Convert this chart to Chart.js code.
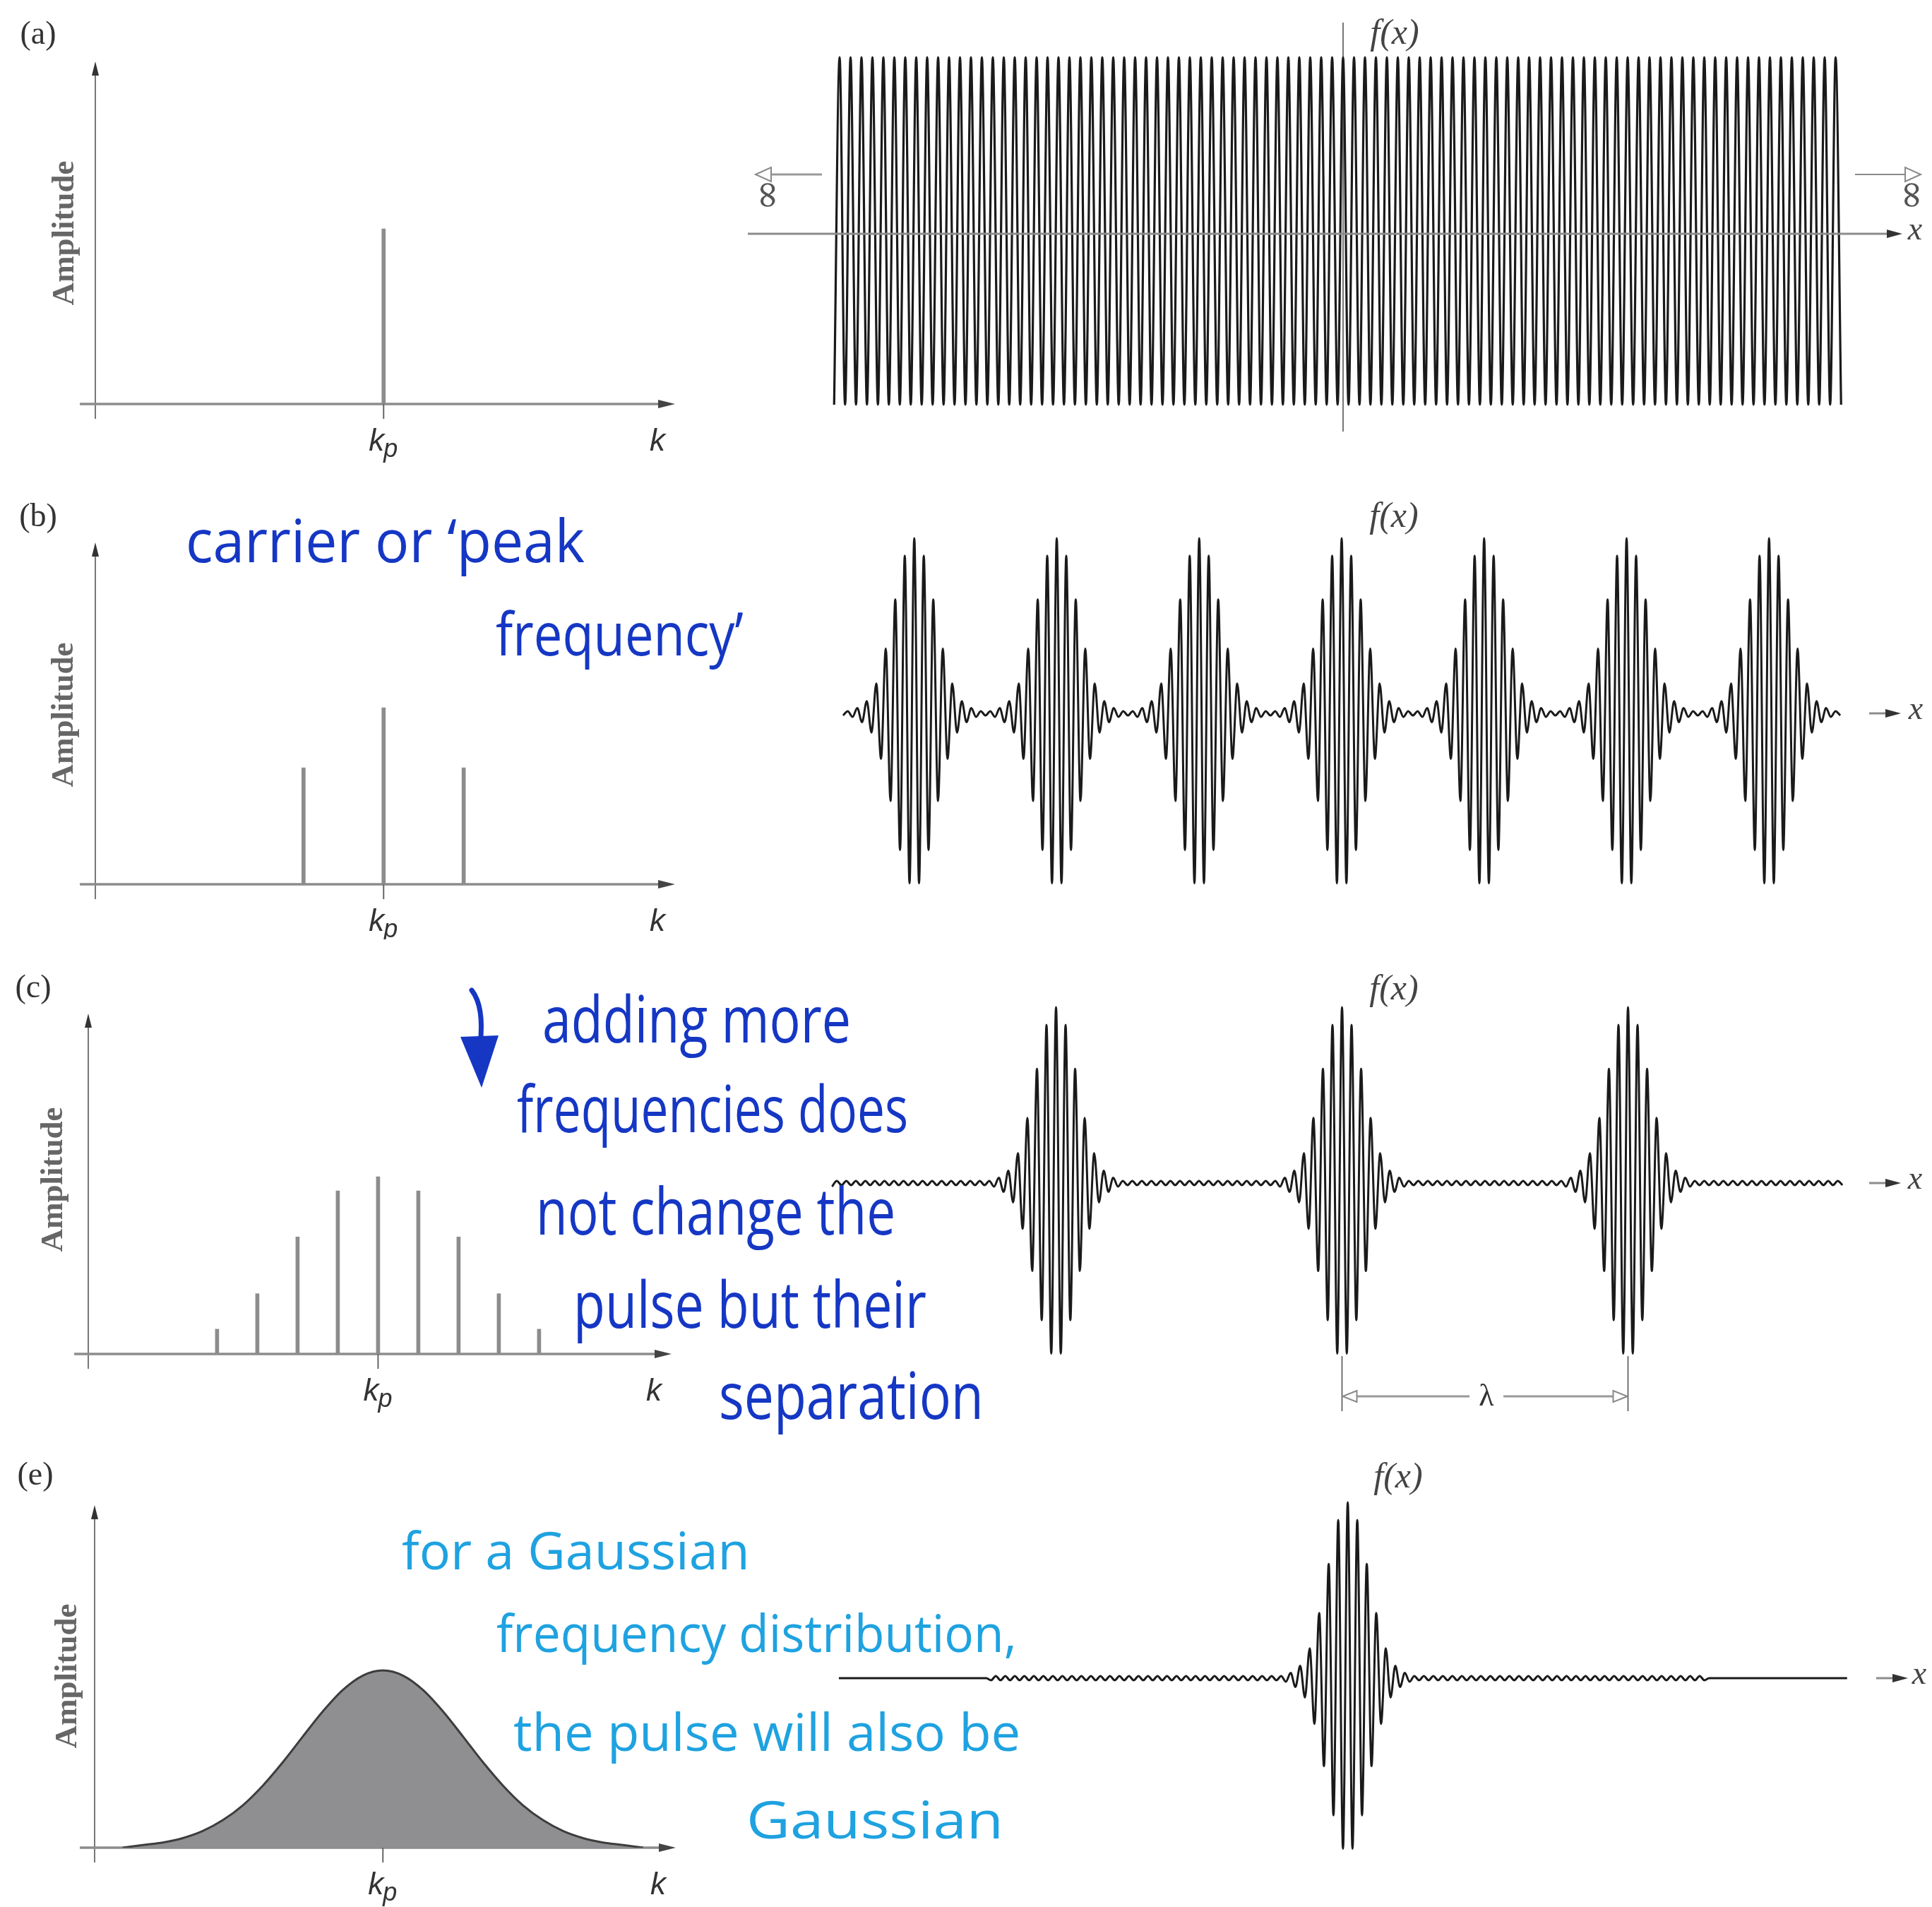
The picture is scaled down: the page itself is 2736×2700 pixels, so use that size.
<!DOCTYPE html>
<html>
<head>
<meta charset="utf-8">
<title>Wave packets built from a spread of wavenumbers</title>
<script src="https://cdn.jsdelivr.net/npm/chart.js@4.4.1/dist/chart.umd.min.js"></script>
<style>
  html, body { margin: 0; padding: 0; background: #fff; }
  #page { position: relative; width: 2736px; height: 2700px; overflow: hidden; background: #fff; }
  #page canvas { position: absolute; }
  .note { position: absolute; white-space: nowrap; line-height: 1; transform-origin: 0 50%;
          font-family: "Open Sans", "DejaVu Sans", sans-serif; }
</style>
</head>
<body>
<div id="page">
  <canvas id="specA" width="1000" height="680" style="left:0;top:0"></canvas>
  <canvas id="specB" width="1000" height="650" style="left:0;top:680px"></canvas>
  <canvas id="specC" width="1000" height="720" style="left:0;top:1330px"></canvas>
  <canvas id="specE" width="1000" height="650" style="left:0;top:2050px"></canvas>
  <canvas id="waveA" width="1696" height="680" style="left:1040px;top:0"></canvas>
  <canvas id="waveB" width="1696" height="650" style="left:1040px;top:680px"></canvas>
  <canvas id="waveC" width="1696" height="720" style="left:1040px;top:1330px"></canvas>
  <canvas id="waveE" width="1696" height="650" style="left:1040px;top:2050px"></canvas>
</div>
<script>
// ---- spectra: wavenumber k (axis units) and amplitude (tallest line = 1) ----
var kp = 7.2;
var kTickLabels = ['kp', 'k'];

var specA_k = [7.2];
var specA_amp = [1.0];

var specB_k = [5.2, 7.2, 9.2];
var specB_amp = [0.66, 1.0, 0.66];

var specC_k = [3.2, 4.2, 5.2, 6.2, 7.2, 8.2, 9.2, 10.2, 11.2];
var specC_amp = [0.14, 0.34, 0.66, 0.92, 1.0, 0.92, 0.66, 0.34, 0.14];

var specE_k = [0.7, 1.2, 1.7, 2.2, 2.7, 3.2, 3.7, 4.2, 4.7, 5.2, 5.7, 6.2, 6.7, 7.2,
               7.7, 8.2, 8.7, 9.2, 9.7, 10.2, 10.7, 11.2, 11.7, 12.2, 12.7, 13.2, 13.7];
var specE_amp = [0, 0.015, 0.029, 0.054, 0.094, 0.155, 0.239, 0.35, 0.482, 0.627, 0.769, 0.89, 0.971, 1.0,
                 0.971, 0.89, 0.769, 0.627, 0.482, 0.35, 0.239, 0.155, 0.094, 0.054, 0.029, 0.015, 0];

// ---- f(x): heights of the carrier lobes, one every half cycle, x in carrier cycles ----
var lobeA = [1.0, -1.0];                       // endless wave in (a)
var extentA = [-46.5, 45.5];
// one pulse, read outward from its centre: +peak, -trough, +peak, ...
var pulseShape = [1.0, -0.97, 0.9, -0.78, 0.65, -0.5, 0.37, -0.26, 0.17, -0.11, 0.07, -0.05, 0.03, -0.02];
var rippleAmp = 0.012;
var pulseEveryB = 15;                          // cycles between pulses in (b)
var pulseEveryC = 30;                          // cycles between pulses in (c) = lambda
var extentB = [-52.5, 52.5];
var extentC = [-53.5, 52.5];
var extentE = [-53.5, 52.5];
var rippleReachE = 37.5;

var INK = '#1537c4';
var INK_LIGHT = '#1fa2e0';

// ---- layout (page pixels) ----
var specLayout = {
    a: { oy: 0,    h: 680, axisX: 135, axisY: 572,  yTop: 87,   xStart: 113, xEnd: 956, unitPx: 56.7, ampPx: 248, tag: '(a)', tagXY: [54, 50],   ampXY: [92, 330] },
    b: { oy: 680,  h: 650, axisX: 135, axisY: 1252, yTop: 768,  xStart: 113, xEnd: 956, unitPx: 56.7, ampPx: 250, tag: '(b)', tagXY: [54, 733],  ampXY: [91, 1012] },
    c: { oy: 1330, h: 720, axisX: 125, axisY: 1917, yTop: 1435, xStart: 105, xEnd: 951, unitPx: 57,   ampPx: 251, tag: '(c)', tagXY: [47, 1400], ampXY: [76, 1670] },
    e: { oy: 2050, h: 650, axisX: 134, axisY: 2616, yTop: 2131, xStart: 113, xEnd: 957, unitPx: 56.7, ampPx: 251, tag: '(e)', tagXY: [50, 2090], ampXY: [96, 2373] }
};
var waveLayout = {
    a: { oy: 0,    h: 680, cx: 1902,   cy: 327,  pxPerCycle: 15.5,  ampPx: 246, fx: [1975, 49],   xArrow: [1059, 2694], xLab: 2712 },
    b: { oy: 680,  h: 650, cx: 1900,   cy: 1010, pxPerCycle: 13.45, ampPx: 248, fx: [1974, 733],  xArrow: [2647, 2692], xLab: 2713 },
    c: { oy: 1330, h: 720, cx: 1900.5, cy: 1675, pxPerCycle: 13.5,  ampPx: 249, fx: [1974, 1402], xArrow: [2647, 2692], xLab: 2712 },
    e: { oy: 2050, h: 650, cx: 1908.6, cy: 2376, pxPerCycle: 13.47, ampPx: 249, fx: [1980, 2093], xArrow: [2657, 2702], xLab: 2718 }
};

function seg(c, x1, y1, x2, y2) {
    c.beginPath(); c.moveTo(x1, y1); c.lineTo(x2, y2); c.stroke();
}
function head(c, tipX, tipY, dx, dy, len, half, fill, stroke) {
    var bx = tipX - dx * len, by = tipY - dy * len;
    c.beginPath();
    c.moveTo(tipX, tipY);
    c.lineTo(bx - dy * half, by + dx * half);
    c.lineTo(bx + dy * half, by - dx * half);
    c.closePath();
    c.fillStyle = fill; c.fill();
    if (stroke) { c.strokeStyle = stroke; c.lineWidth = 2; c.stroke(); }
}

function spectrumDecor(key, L) {
    return {
        id: 'specDecor',
        beforeDatasetsDraw: function (chart) {
            var c = chart.ctx, xs = chart.scales.x, ys = chart.scales.y;
            var x0 = xs.getPixelForValue(0), y0 = ys.getPixelForValue(0);
            var top = ys.getPixelForValue(ys.max), right = xs.getPixelForValue(xs.max);
            c.save();
            c.strokeStyle = '#555'; c.lineWidth = 1.6;
            seg(c, x0, y0 + 21, x0, top + 16);
            head(c, x0, top, 0, -1, 20, 5, '#333');
            c.strokeStyle = '#8c8c8c'; c.lineWidth = 3.5;
            seg(c, L.xStart, y0, right - 18, y0);
            head(c, right, y0, 1, 0, 24, 6, '#444');
            var xp = xs.getPixelForValue(kp);
            c.strokeStyle = '#666'; c.lineWidth = 2;
            seg(c, xp, y0, xp, y0 + 21);
            c.restore();
        },
        afterDraw: function (chart) {
            var c = chart.ctx, xs = chart.scales.x, ys = chart.scales.y;
            var y0 = ys.getPixelForValue(0);
            var base = y0 + 66;
            c.save();
            c.fillStyle = '#333';
            c.font = '46px "Liberation Serif", serif';
            c.textAlign = 'center'; c.textBaseline = 'middle';
            c.fillText(L.tag, L.tagXY[0], L.tagXY[1] - L.oy);
            // Amplitude
            c.save();
            c.translate(L.ampXY[0], L.ampXY[1] - L.oy);
            c.rotate(-Math.PI / 2);
            c.fillStyle = '#666';
            c.font = 'bold 45px "Liberation Serif", serif';
            c.fillText('Amplitude', 0, 0);
            c.restore();
            // k_p and k
            c.textBaseline = 'alphabetic'; c.textAlign = 'left';
            c.fillStyle = '#333';
            var xp = xs.getPixelForValue(kp);
            c.font = 'italic 44px "Liberation Sans", sans-serif';
            var wk = c.measureText(kTickLabels[0].charAt(0)).width;
            c.font = 'italic 36px "Liberation Sans", sans-serif';
            var wsub = c.measureText(kTickLabels[0].charAt(1)).width;
            var sx = xp - (wk + wsub) / 2;
            c.font = 'italic 44px "Liberation Sans", sans-serif';
            c.fillText(kTickLabels[0].charAt(0), sx, base);
            c.font = 'italic 36px "Liberation Sans", sans-serif';
            c.fillText(kTickLabels[0].charAt(1), sx + wk - 1, base + 9);
            c.font = 'italic 44px "Liberation Sans", sans-serif';
            c.textAlign = 'center';
            c.fillText(kTickLabels[1], L.xEnd - 25, base);
            // hand-drawn arrow beside panel (c)
            if (key === 'c') {
                c.strokeStyle = INK; c.lineWidth = 7; c.lineCap = 'round';
                c.beginPath();
                c.moveTo(668, 1402 - L.oy);
                c.quadraticCurveTo(686, 1425 - L.oy, 680, 1478 - L.oy);
                c.stroke();
                c.beginPath();
                c.moveTo(652, 1468 - L.oy);
                c.lineTo(706, 1466 - L.oy);
                c.lineTo(682, 1540 - L.oy);
                c.closePath();
                c.fillStyle = INK; c.fill();
            }
            c.restore();
        }
    };
}

function spectrumChart(id, key, kArr, ampArr, kind) {
    var L = specLayout[key];
    var pts = kArr.map(function (k, i) { return { x: k, y: ampArr[i] }; });
    var ds = kind === 'curve'
        ? { type: 'line', data: pts, borderColor: '#3d3d3d', borderWidth: 3, backgroundColor: '#8f8f91',
            fill: 'origin', pointRadius: 0, cubicInterpolationMode: 'monotone' }
        : { type: 'bar', data: pts, backgroundColor: '#8c8c8c', barThickness: 5, borderWidth: 0 };
    return new Chart(document.getElementById(id), {
        type: kind === 'curve' ? 'line' : 'bar',
        data: { datasets: [ds] },
        options: {
            responsive: false, animation: false, events: [], devicePixelRatio: 1,
            layout: { padding: { left: L.axisX, right: 1000 - L.xEnd, top: L.yTop - L.oy, bottom: L.oy + L.h - L.axisY } },
            plugins: { legend: { display: false }, tooltip: { enabled: false } },
            scales: {
                x: { type: 'linear', display: false, offset: false, min: 0, max: (L.xEnd - L.axisX) / L.unitPx },
                y: { type: 'linear', display: false, min: 0, max: (L.axisY - L.yTop) / L.ampPx }
            }
        },
        plugins: [spectrumDecor(key, L)]
    });
}

function waveDecor(key, L) {
    return {
        id: 'waveDecor',
        beforeDatasetsDraw: function (chart) {
            if (key !== 'a') return;
            var c = chart.ctx;
            c.save();
            c.translate(-1040, -L.oy);
            var x0 = chart.scales.x.getPixelForValue(0) + 1040;
            c.strokeStyle = '#777'; c.lineWidth = 2;
            seg(c, x0, 32, x0, 611);
            c.restore();
        },
        afterDatasetsDraw: function (chart) {
            var c = chart.ctx, xs = chart.scales.x;
            c.save();
            c.translate(-1040, -L.oy);
            var ay = key === 'a' ? 331 : L.cy;
            c.strokeStyle = '#8c8c8c'; c.lineWidth = 3;
            seg(c, L.xArrow[0], ay, L.xArrow[1] - 16, ay);
            head(c, L.xArrow[1], ay, 1, 0, 22, 6, '#333');

            c.fillStyle = '#444';
            c.textAlign = 'center'; c.textBaseline = 'middle';
            c.font = 'italic 46px "Liberation Serif", serif';
            c.fillText('x', L.xLab, ay - 4);
            c.font = 'italic 50px "Liberation Serif", serif';
            c.fillText('f(x)', L.fx[0], L.fx[1]);

            if (key === 'a') {
                c.strokeStyle = '#9a9a9a'; c.lineWidth = 3;
                seg(c, 1164, 247, 1092, 247);
                head(c, 1070, 247, -1, 0, 22, 10, '#fff', '#8a8a8a');
                seg(c, 2627, 247, 2698, 247);
                head(c, 2720, 247, 1, 0, 22, 10, '#fff', '#8a8a8a');
                c.fillStyle = '#555';
                c.font = '54px "DejaVu Serif", serif';
                [1085, 2705].forEach(function (ix) {
                    c.save();
                    c.translate(ix, 276);
                    c.rotate(Math.PI / 2);
                    c.fillText('\u221E', 0, 0);
                    c.restore();
                });
            }
            if (key === 'c') {
                var xl = xs.getPixelForValue(0) + 1040;
                var xr = xs.getPixelForValue(pulseEveryC) + 1040;
                c.strokeStyle = '#555'; c.lineWidth = 1.6;
                seg(c, xl, 1920, xl, 1998);
                seg(c, xr, 1920, xr, 1998);
                c.strokeStyle = '#9a9a9a'; c.lineWidth = 3;
                var mid = (xl + xr) / 2;
                seg(c, xl + 18, 1977, mid - 22, 1977);
                seg(c, mid + 26, 1977, xr - 18, 1977);
                head(c, xl + 1, 1977, -1, 0, 20, 8, '#fff', '#8a8a8a');
                head(c, xr - 1, 1977, 1, 0, 20, 8, '#fff', '#8a8a8a');
                c.fillStyle = '#333';
                c.font = '44px "Liberation Serif", serif';
                c.fillText('\u03BB', mid + 2, 1978);
            }
            c.restore();
        }
    };
}

function waveChart(id, key, pts) {
    var L = waveLayout[key];
    var left = 1060, right = 2700;
    var half = 1.25 * L.ampPx;
    return new Chart(document.getElementById(id), {
        type: 'line',
        data: { datasets: [{ data: pts, borderColor: '#1a1a1a', borderWidth: key === 'a' ? 3.2 : 3.0, pointRadius: 0,
                             fill: false, cubicInterpolationMode: 'monotone' }] },
        options: {
            responsive: false, animation: false, events: [], devicePixelRatio: 1,
            layout: { padding: { left: left - 1040, right: 2736 - right,
                                 top: L.cy - half - L.oy, bottom: L.oy + L.h - (L.cy + half) } },
            plugins: { legend: { display: false }, tooltip: { enabled: false } },
            scales: {
                x: { type: 'linear', display: false, min: (left - L.cx) / L.pxPerCycle, max: (right - L.cx) / L.pxPerCycle },
                y: { type: 'linear', display: false, min: -1.25, max: 1.25 }
            }
        },
        plugins: [waveDecor(key, L)]
    });
}

// lobe points, one every half carrier cycle; the library's monotone curve joins them
function lobes(extent, valueAt) {
    var pts = [];
    for (var m = Math.round(extent[0] * 2); m <= Math.round(extent[1] * 2); m++) {
        pts.push({ x: m / 2, y: valueAt(m) });
    }
    return pts;
}
function pulseLobe(i) {
    if (i < pulseShape.length) return pulseShape[i];
    return (i % 2 === 0 ? 1 : -1) * rippleAmp;
}
function trainLobe(m, every) {
    var n = every * 2;
    var d = ((m % n) + n) % n;
    return pulseLobe(Math.min(d, n - d));
}

spectrumChart('specA', 'a', specA_k, specA_amp, 'lines');
spectrumChart('specB', 'b', specB_k, specB_amp, 'lines');
spectrumChart('specC', 'c', specC_k, specC_amp, 'lines');
spectrumChart('specE', 'e', specE_k, specE_amp, 'curve');

waveChart('waveA', 'a', lobes(extentA, function (m) { return lobeA[Math.abs(m) % 2]; }));
waveChart('waveB', 'b', lobes(extentB, function (m) { return trainLobe(m, pulseEveryB); }));
waveChart('waveC', 'c', lobes(extentC, function (m) { return trainLobe(m, pulseEveryC); }));
waveChart('waveE', 'e', lobes(extentE, function (m) {
    return Math.abs(m) > rippleReachE * 2 ? 0 : pulseLobe(Math.abs(m));
}));

// handwritten notes
var notes = [
    { t: 'carrier or \u2018peak',      x0: 263,  x1: 828,  cy: 774,  size: 84, color: INK },
    { t: 'frequency\u2019',            x0: 702,  x1: 1053, cy: 906,  size: 84, color: INK },
    { t: 'adding more',                x0: 768,  x1: 1205, cy: 1452, size: 92, color: INK },
    { t: 'frequencies does',           x0: 732,  x1: 1286, cy: 1579, size: 92, color: INK },
    { t: 'not change the',             x0: 759,  x1: 1268, cy: 1724, size: 92, color: INK },
    { t: 'pulse but their',            x0: 812,  x1: 1312, cy: 1856, size: 92, color: INK },
    { t: 'separation',                 x0: 1018, x1: 1393, cy: 1985, size: 92, color: INK },
    { t: 'for a Gaussian',             x0: 569,  x1: 1062, cy: 2203, size: 74, color: INK_LIGHT },
    { t: 'frequency distribution,',    x0: 703,  x1: 1440, cy: 2320, size: 74, color: INK_LIGHT },
    { t: 'the pulse will also be',     x0: 727,  x1: 1445, cy: 2460, size: 74, color: INK_LIGHT },
    { t: 'Gaussian',                   x0: 1057, x1: 1421, cy: 2584, size: 74, color: INK_LIGHT }
];
var page = document.getElementById('page');
notes.forEach(function (n) {
    var d = document.createElement('div');
    d.className = 'note';
    d.textContent = n.t;
    d.style.fontSize = n.size + 'px';
    d.style.color = n.color;
    d.style.left = n.x0 + 'px';
    d.style.top = (n.cy - 0.62 * n.size) + 'px';
    page.appendChild(d);
    var w = d.getBoundingClientRect().width;
    d.style.transform = 'scaleX(' + ((n.x1 - n.x0) / w).toFixed(3) + ')';
});
</script>
</body>
</html>
